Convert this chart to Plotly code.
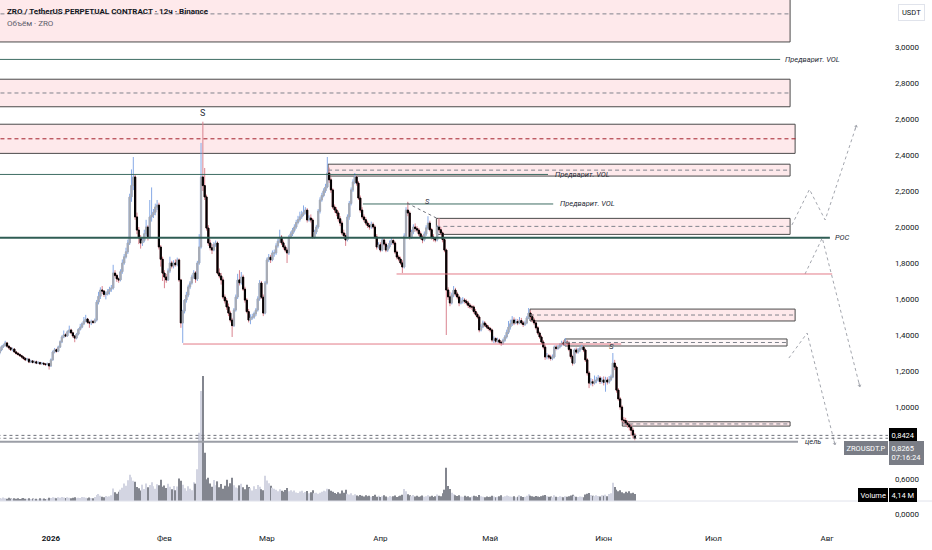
import pandas as pd
import plotly.graph_objects as go

# ZRO/USDT perpetual, 12h candles from 2025-12-18
first_open = 1.300
close = [
    1.317, 1.335, 1.342, 1.356, 1.338, 1.329, 1.318, 1.322, 1.306, 1.298,
    1.292, 1.285, 1.278, 1.270, 1.262, 1.266, 1.250, 1.256, 1.248, 1.251,
    1.244, 1.247, 1.240, 1.243, 1.239, 1.236, 1.241, 1.228, 1.262, 1.306,
    1.318, 1.310, 1.333, 1.362, 1.389, 1.401, 1.395, 1.418, 1.428, 1.412,
    1.395, 1.383, 1.405, 1.431, 1.444, 1.462, 1.478, 1.489, 1.471, 1.467,
    1.476, 1.470, 1.483, 1.583, 1.615, 1.650, 1.644, 1.625, 1.628, 1.642,
    1.655, 1.661, 1.744, 1.731, 1.712, 1.706, 1.752, 1.800, 1.834, 1.862,
    1.911, 2.167, 2.231, 2.278, 2.056, 1.983, 1.941, 1.911, 1.925, 1.962,
    2.000, 1.944, 2.056, 2.067, 2.082, 2.111, 2.122, 1.889, 1.821, 1.744,
    1.722, 1.706, 1.756, 1.800, 1.783, 1.800, 1.791, 1.817, 1.706, 1.467,
    1.533, 1.594, 1.622, 1.667, 1.689, 1.722, 1.745, 1.711, 1.800, 1.889,
    2.278, 2.230, 2.167, 1.994, 1.911, 1.885, 1.872, 1.902, 1.911, 1.744,
    1.728, 1.706, 1.611, 1.590, 1.556, 1.522, 1.483, 1.452, 1.539, 1.611,
    1.706, 1.690, 1.722, 1.655, 1.594, 1.530, 1.483, 1.495, 1.500, 1.518,
    1.539, 1.601, 1.689, 1.610, 1.522, 1.689, 1.817, 1.832, 1.818, 1.856,
    1.856, 1.895, 1.921, 1.944, 1.912, 1.889, 1.872, 1.856, 1.944, 1.962,
    1.981, 2.000, 2.025, 2.041, 2.056, 2.070, 2.081, 2.094, 2.039, 2.050,
    2.039, 1.944, 1.972, 2.000, 2.088, 2.150, 2.175, 2.201, 2.222, 2.300,
    2.262, 2.206, 2.111, 2.095, 2.078, 2.046, 2.022, 1.967, 1.952, 1.928,
    2.056, 2.131, 2.206, 2.250, 2.278, 2.244, 2.161, 2.094, 2.056, 2.041,
    2.022, 2.008, 2.000, 2.015, 2.000, 1.945, 1.889, 1.901, 1.872, 1.928,
    1.905, 1.872, 1.890, 1.911, 1.925, 1.911, 1.861, 1.833, 1.822, 1.800,
    1.778, 1.950, 2.094, 2.078, 1.944, 1.972, 2.000, 1.991, 1.983, 1.962,
    1.944, 1.928, 1.961, 1.995, 2.022, 1.985, 1.944, 1.935, 1.928, 2.000,
    1.985, 1.967, 1.930, 1.872, 1.650, 1.612, 1.578, 1.622, 1.650, 1.628,
    1.611, 1.578, 1.585, 1.594, 1.588, 1.578, 1.565, 1.556, 1.556, 1.531,
    1.515, 1.500, 1.428, 1.445, 1.467, 1.455, 1.444, 1.436, 1.428, 1.372,
    1.380, 1.366, 1.372, 1.360, 1.356, 1.371, 1.389, 1.415, 1.444, 1.462,
    1.483, 1.467, 1.475, 1.467, 1.480, 1.467, 1.459, 1.467, 1.495, 1.522,
    1.502, 1.483, 1.467, 1.440, 1.411, 1.389, 1.361, 1.333, 1.278, 1.285,
    1.278, 1.270, 1.278, 1.333, 1.325, 1.333, 1.344, 1.356, 1.350, 1.361,
    1.356, 1.320, 1.280, 1.244, 1.317, 1.305, 1.317, 1.325, 1.333, 1.317,
    1.262, 1.189, 1.133, 1.140, 1.133, 1.145, 1.150, 1.161, 1.142, 1.150,
    1.138, 1.150, 1.139, 1.152, 1.167, 1.244, 1.222, 1.094, 1.045, 1.000,
    0.928, 0.925, 0.911, 0.902, 0.889, 0.871, 0.844, 0.8265,
]
high = [
    1.325, 1.342, 1.352, 1.368, 1.362, 1.344, 1.335, 1.330, 1.326, 1.312,
    1.305, 1.298, 1.290, 1.284, 1.276, 1.273, 1.270, 1.262, 1.261, 1.258,
    1.258, 1.255, 1.252, 1.250, 1.248, 1.244, 1.247, 1.245, 1.270, 1.314,
    1.328, 1.325, 1.341, 1.370, 1.398, 1.425, 1.410, 1.426, 1.452, 1.435,
    1.418, 1.400, 1.412, 1.438, 1.462, 1.470, 1.500, 1.512, 1.495, 1.480,
    1.485, 1.482, 1.492, 1.595, 1.640, 1.665, 1.672, 1.650, 1.640, 1.655,
    1.668, 1.678, 1.790, 1.760, 1.740, 1.720, 1.765, 1.820, 1.850, 1.885,
    1.930, 2.185, 2.320, 2.389, 2.290, 2.080, 2.000, 1.955, 1.940, 1.985,
    2.040, 2.010, 2.150, 2.220, 2.100, 2.130, 2.150, 2.135, 1.900, 1.835,
    1.760, 1.740, 1.770, 1.835, 1.812, 1.815, 1.820, 1.830, 1.825, 1.712,
    1.540, 1.600, 1.640, 1.680, 1.700, 1.735, 1.760, 1.755, 1.812, 1.960,
    2.467, 2.585, 2.328, 2.180, 2.010, 1.930, 1.905, 1.915, 1.925, 1.920,
    1.770, 1.745, 1.720, 1.625, 1.605, 1.575, 1.535, 1.495, 1.550, 1.625,
    1.740, 1.760, 1.750, 1.735, 1.668, 1.605, 1.545, 1.515, 1.518, 1.530,
    1.550, 1.615, 1.705, 1.700, 1.625, 1.700, 1.830, 1.850, 1.845, 1.870,
    1.875, 1.910, 1.935, 1.985, 1.955, 1.925, 1.900, 1.885, 1.955, 1.975,
    1.995, 2.015, 2.040, 2.062, 2.085, 2.090, 2.120, 2.110, 2.105, 2.065,
    2.070, 2.050, 1.985, 2.012, 2.100, 2.165, 2.190, 2.215, 2.240, 2.389,
    2.330, 2.275, 2.215, 2.125, 2.110, 2.090, 2.060, 2.035, 1.985, 1.965,
    2.070, 2.145, 2.220, 2.265, 2.300, 2.285, 2.255, 2.175, 2.110, 2.070,
    2.055, 2.035, 2.020, 2.030, 2.025, 2.010, 1.960, 1.915, 1.915, 1.940,
    1.940, 1.915, 1.900, 1.925, 1.940, 1.935, 1.920, 1.870, 1.845, 1.835,
    1.815, 1.965, 2.110, 2.140, 2.090, 1.985, 2.015, 2.020, 2.005, 1.995,
    1.975, 1.955, 1.975, 2.010, 2.060, 2.035, 1.995, 1.960, 1.945, 2.010,
    2.050, 2.000, 1.975, 1.940, 1.880, 1.665, 1.640, 1.635, 1.672, 1.662,
    1.640, 1.620, 1.605, 1.610, 1.605, 1.598, 1.590, 1.575, 1.568, 1.565,
    1.545, 1.525, 1.510, 1.460, 1.480, 1.478, 1.465, 1.455, 1.445, 1.435,
    1.392, 1.388, 1.385, 1.380, 1.368, 1.380, 1.400, 1.430, 1.478, 1.485,
    1.505, 1.498, 1.490, 1.488, 1.500, 1.495, 1.478, 1.480, 1.505, 1.550,
    1.535, 1.515, 1.495, 1.475, 1.450, 1.420, 1.398, 1.372, 1.345, 1.300,
    1.295, 1.290, 1.292, 1.342, 1.345, 1.345, 1.355, 1.368, 1.370, 1.383,
    1.372, 1.365, 1.330, 1.290, 1.325, 1.330, 1.328, 1.335, 1.345, 1.342,
    1.325, 1.272, 1.200, 1.160, 1.155, 1.175, 1.168, 1.178, 1.172, 1.165,
    1.170, 1.168, 1.165, 1.172, 1.180, 1.300, 1.262, 1.230, 1.105, 1.055,
    1.010, 0.945, 0.940, 0.925, 0.915, 0.905, 0.885, 0.856,
]
low = [
    1.292, 1.310, 1.328, 1.336, 1.330, 1.320, 1.312, 1.310, 1.300, 1.290,
    1.285, 1.279, 1.270, 1.262, 1.255, 1.258, 1.244, 1.246, 1.242, 1.243,
    1.238, 1.239, 1.234, 1.236, 1.232, 1.228, 1.231, 1.208, 1.224, 1.258,
    1.298, 1.302, 1.305, 1.328, 1.355, 1.382, 1.388, 1.390, 1.410, 1.405,
    1.385, 1.360, 1.376, 1.398, 1.425, 1.438, 1.455, 1.470, 1.462, 1.440,
    1.455, 1.462, 1.465, 1.475, 1.570, 1.600, 1.628, 1.612, 1.598, 1.620,
    1.625, 1.640, 1.652, 1.720, 1.695, 1.690, 1.698, 1.740, 1.790, 1.825,
    1.850, 1.900, 2.140, 2.205, 2.040, 1.960, 1.905, 1.880, 1.895, 1.915,
    1.950, 1.925, 1.935, 2.030, 2.050, 2.065, 2.095, 1.875, 1.780, 1.700,
    1.660, 1.690, 1.700, 1.745, 1.770, 1.770, 1.780, 1.782, 1.695, 1.440,
    1.356, 1.520, 1.580, 1.610, 1.655, 1.680, 1.712, 1.690, 1.700, 1.790,
    1.880, 2.200, 2.150, 1.980, 1.895, 1.870, 1.850, 1.865, 1.890, 1.735,
    1.715, 1.680, 1.600, 1.575, 1.540, 1.505, 1.470, 1.389, 1.445, 1.530,
    1.600, 1.675, 1.680, 1.645, 1.580, 1.520, 1.470, 1.460, 1.485, 1.490,
    1.505, 1.530, 1.590, 1.600, 1.505, 1.515, 1.680, 1.805, 1.800, 1.810,
    1.835, 1.845, 1.885, 1.910, 1.900, 1.875, 1.860, 1.800, 1.845, 1.935,
    1.950, 1.970, 1.990, 2.015, 2.030, 2.045, 2.060, 2.070, 2.025, 2.030,
    2.025, 1.935, 1.935, 1.960, 1.990, 2.075, 2.140, 2.165, 2.190, 2.215,
    2.245, 2.190, 2.100, 2.080, 2.060, 2.030, 2.005, 1.955, 1.935, 1.895,
    1.920, 2.040, 2.120, 2.195, 2.238, 2.230, 2.150, 2.080, 2.045, 2.030,
    2.010, 1.995, 1.985, 1.990, 1.990, 1.935, 1.875, 1.880, 1.860, 1.865,
    1.895, 1.860, 1.862, 1.880, 1.900, 1.900, 1.850, 1.820, 1.810, 1.790,
    1.744, 1.770, 1.940, 2.060, 1.930, 1.935, 1.960, 1.975, 1.970, 1.950,
    1.930, 1.910, 1.920, 1.950, 1.985, 1.975, 1.930, 1.920, 1.915, 1.920,
    1.975, 1.955, 1.915, 1.860, 1.400, 1.595, 1.560, 1.570, 1.610, 1.615,
    1.598, 1.560, 1.570, 1.575, 1.575, 1.565, 1.550, 1.545, 1.540, 1.520,
    1.505, 1.490, 1.415, 1.420, 1.438, 1.445, 1.435, 1.425, 1.415, 1.360,
    1.355, 1.355, 1.358, 1.350, 1.340, 1.345, 1.362, 1.380, 1.405, 1.430,
    1.450, 1.455, 1.460, 1.455, 1.460, 1.458, 1.445, 1.450, 1.460, 1.488,
    1.490, 1.470, 1.455, 1.430, 1.400, 1.378, 1.350, 1.320, 1.262, 1.265,
    1.265, 1.258, 1.260, 1.270, 1.315, 1.318, 1.325, 1.335, 1.340, 1.340,
    1.340, 1.310, 1.268, 1.230, 1.238, 1.295, 1.296, 1.305, 1.318, 1.305,
    1.250, 1.175, 1.105, 1.120, 1.115, 1.125, 1.132, 1.140, 1.128, 1.130,
    1.120, 1.085, 1.125, 1.130, 1.145, 1.160, 1.205, 1.080, 1.035, 0.985,
    0.915, 0.905, 0.895, 0.885, 0.870, 0.840, 0.825, 0.815,
]
# volume, millions of ZRO
volume = [
    1.8, 1.5, 2.1, 1.6, 1.4, 1.9, 1.5, 1.3, 1.7, 1.4,
    1.6, 1.2, 1.5, 1.8, 1.3, 1.4, 1.6, 1.2, 1.5, 1.3,
    1.4, 1.1, 1.6, 1.3, 1.5, 1.2, 1.4, 2.0, 1.8, 2.2,
    1.9, 1.6, 2.3, 2.0, 2.4, 2.1, 1.8, 2.2, 2.0, 1.7,
    1.9, 2.3, 1.6, 2.0, 1.8, 2.4, 2.2, 1.9, 1.7, 2.1,
    1.8, 1.6, 2.4, 3.6, 4.2, 3.1, 2.6, 2.2, 3.0, 2.5,
    2.8, 3.4, 7.5, 5.2, 4.4, 5.6, 6.8, 7.9, 10.5, 9.2,
    12.4, 15.8, 14.2, 12.1, 11.5, 8.4, 7.6, 6.3, 9.8, 7.2,
    10.5, 8.2, 9.6, 11.3, 8.8, 7.4, 10.1, 9.5, 12.7, 8.6,
    9.3, 7.8, 10.4, 8.5, 7.1, 9.0, 6.4, 8.7, 13.5, 12.2,
    9.8, 7.6, 6.2, 8.9, 7.3, 6.5, 11.2, 10.4, 19.0, 41.0,
    66.0, 75.0, 29.0, 13.0, 14.0, 10.5, 8.6, 12.6, 9.4, 11.8,
    8.3, 10.2, 7.4, 9.1, 12.8, 8.7, 10.6, 13.9, 9.5, 8.1,
    7.6, 9.4, 10.3, 8.2, 7.1, 9.8, 8.4, 7.7, 6.3, 8.9,
    7.2, 9.6, 8.5, 7.0, 6.4, 15.2, 12.3, 10.6, 9.2, 8.0,
    7.4, 6.8, 5.9, 7.1, 6.2, 5.5, 6.6, 7.8, 5.8, 6.5,
    5.6, 6.3, 5.1, 4.8, 5.7, 6.1, 4.9, 5.4, 6.0, 4.6,
    5.2, 6.4, 4.7, 5.0, 4.3, 4.9, 5.5, 6.2, 5.8, 7.4,
    7.0, 6.1, 5.6, 4.8, 4.2, 5.3, 4.5, 6.3, 5.0, 6.8,
    4.4, 3.9, 4.6, 3.5, 4.1, 3.3, 2.9, 3.6, 3.1, 2.7,
    3.4, 2.8, 3.2, 2.5, 3.0, 3.7, 2.6, 3.1, 2.4, 2.9,
    3.5, 2.7, 2.3, 3.0, 2.6, 2.8, 3.3, 2.4, 2.9, 3.2,
    3.8, 7.2, 5.9, 4.1, 3.5, 2.9, 3.6, 2.7, 3.2, 2.5,
    2.8, 3.3, 2.6, 2.9, 3.4, 2.7, 3.1, 2.4, 2.8, 3.9,
    3.2, 2.9, 4.6, 6.8, 20.0, 9.0, 7.2, 5.0, 4.1, 3.5,
    3.0, 3.4, 2.7, 2.5, 3.1, 2.6, 2.9, 2.3, 2.7, 3.2,
    2.8, 2.4, 3.6, 2.9, 2.5, 2.2, 2.7, 2.4, 2.6, 3.1,
    2.7, 2.3, 2.5, 2.9, 3.4, 2.6, 2.8, 3.3, 3.0, 2.7,
    2.5, 2.9, 2.3, 2.6, 3.5, 2.8, 2.4, 2.6, 3.1, 4.0,
    3.2, 2.8, 2.6, 3.0, 2.7, 2.4, 2.9, 3.3, 3.6, 2.8,
    2.5, 2.7, 2.3, 3.4, 2.6, 2.4, 2.8, 2.5, 2.3, 2.9,
    2.6, 2.8, 3.3, 3.7, 3.1, 2.6, 2.4, 2.7, 2.5, 2.3,
    3.9, 4.4, 4.8, 3.6, 3.2, 2.9, 3.4, 3.0, 2.7, 3.5,
    3.1, 3.8, 2.9, 4.2, 4.6, 11.0, 8.4, 6.8, 5.9, 6.4,
    5.2, 4.6, 5.5, 4.9, 5.8, 4.7, 5.0, 4.14,
]

# drawings on the chart (price zones, levels, projections)
zone_start = ["2025-12-01", "2025-12-01", "2025-12-01", "2026-03-17 17:00",
              "2026-04-16 07:00", "2026-05-11 21:00", "2026-05-21 10:00", "2026-06-06 02:00"]
zone_end = ["2026-07-21 22:00", "2026-07-21 22:00", "2026-07-23 07:00", "2026-07-21 22:00",
            "2026-07-21 22:00", "2026-07-23 07:00", "2026-07-21 02:00", "2026-07-21 22:00"]
zone_top = [3.34, 2.821, 2.571, 2.349, 2.048, 1.544, 1.378, 0.918]
zone_bottom = [3.028, 2.668, 2.409, 2.283, 1.959, 1.478, 1.339, 0.894]

level_price = [2.931, 2.292, 2.128, 1.9406, 1.739, 1.350, 0.807]
level_start = ["2025-12-01", "2025-12-01", "2026-03-27 05:00", "2025-12-01",
               "2026-04-05 10:00", "2026-02-06 02:00", "2025-12-01"]
level_end = ["2026-07-19 05:00", "2026-05-16 19:00", "2026-05-18 05:00", "2026-08-01 19:00",
             "2026-08-02 10:00", "2026-06-05 19:00", "2026-07-24 02:00"]

price_lines = [0.8424, 0.8265]

path_a_x = ["2026-07-22 10:00", "2026-07-27 05:00", "2026-07-31 12:00", "2026-08-09 02:00"]
path_a_y = [2.011, 2.209, 2.039, 2.567]
path_b_x = ["2026-07-26 00:00", "2026-07-30 17:00", "2026-08-10 00:00"]
path_b_y = [1.739, 1.939, 1.111]
path_c_x = ["2026-07-21 14:00", "2026-07-26 14:00", "2026-08-03 05:00"]
path_c_y = [1.272, 1.411, 0.789]

price_ticks = [0.6, 1.0, 1.2, 1.4, 1.6, 1.8, 2.0, 2.2, 2.4, 2.6, 2.8, 3.0]
month_ticks = ["2026-01-01", "2026-02-01", "2026-03-01", "2026-04-01",
               "2026-05-01", "2026-06-01", "2026-07-01", "2026-08-01"]
month_labels = ["<b>2026</b>", "Фев", "Мар", "Апр", "Май", "Июн", "Июл", "Авг"]

FONT = "Roboto, Liberation Sans, sans-serif"
TEXT = "#131722"
UP_WICK, DOWN_WICK = "#86a9e6", "#d9838f"
UP_BODY, DOWN_BODY = "#a9acb4", "#000000"
ZONE_FILL = "rgba(242,54,69,0.11)"
ZONE_EDGE = "#4a4a4a"

times = pd.date_range("2025-12-18 00:00", periods=len(close), freq="12h")
opens = [first_open] + close[:-1]
body_top = [max(o, c) for o, c in zip(opens, close)]
body_bot = [min(o, c) for o, c in zip(opens, close)]
vol_colors = ["#d3d5e2" if c >= o else "#83868f" for o, c in zip(opens, close)]

fig = go.Figure()

# volume overlay (own hidden axis)
fig.add_trace(go.Bar(x=times, y=volume, marker_color=vol_colors, marker_line_width=0,
                     width=12 * 3600 * 1000 * 0.6, yaxis="y3", hoverinfo="skip"))

# wicks: full-range candles in wick colours
fig.add_trace(go.Candlestick(
    x=times, open=opens, high=high, low=low, close=close, whiskerwidth=0,
    increasing=dict(line=dict(color=UP_WICK, width=1), fillcolor=UP_WICK),
    decreasing=dict(line=dict(color=DOWN_WICK, width=1), fillcolor=DOWN_WICK),
    hoverinfo="skip"))
# bodies drawn on top
fig.add_trace(go.Candlestick(
    x=times, open=opens, high=body_top, low=body_bot, close=close, whiskerwidth=0,
    increasing=dict(line=dict(color=UP_BODY, width=1), fillcolor=UP_BODY),
    decreasing=dict(line=dict(color=DOWN_BODY, width=1), fillcolor=DOWN_BODY),
    hoverinfo="skip"))

# projection zigzags
for px_, py_ in [(path_a_x, path_a_y), (path_b_x, path_b_y), (path_c_x, path_c_y)]:
    fig.add_trace(go.Scatter(x=px_, y=py_, mode="lines", hoverinfo="skip",
                             line=dict(color="#a3a6ae", width=1, dash="dot")))

# empty lower pane, so the time axis sits under it
fig.add_trace(go.Scatter(x=[times[0]], y=[0], mode="markers", yaxis="y2",
                         marker=dict(opacity=0), hoverinfo="skip"))

shapes = []
for i in range(len(zone_top)):
    shapes.append(dict(type="rect", xref="x", yref="y", x0=zone_start[i], x1=zone_end[i],
                       y0=zone_bottom[i], y1=zone_top[i],
                       fillcolor=ZONE_FILL if i != 6 else "rgba(242,54,69,0.04)",
                       line=dict(color=ZONE_EDGE, width=1), layer="below"))
    mid = (zone_top[i] + zone_bottom[i]) / 2
    red = i == 2
    shapes.append(dict(type="line", xref="x", yref="y", x0=zone_start[i],
                       x1="2026-07-24 02:00" if red else zone_end[i], y0=mid, y1=mid,
                       line=dict(color="#a3202c" if red else "#80838c", width=1, dash="4px,3px")))

level_style = [("#3e6d63", 1), ("#3e6d63", 1), ("#3e6d63", 1), ("#2f5d54", 2),
               ("#e37b88", 1), ("#e37b88", 1), ("#9b9ea6", 2)]
for i, p in enumerate(level_price):
    col, w = level_style[i]
    shapes.append(dict(type="line", xref="x", yref="y", x0=level_start[i], x1=level_end[i],
                       y0=p, y1=p, line=dict(color=col, width=w)))

for p in price_lines:
    shapes.append(dict(type="line", xref="x", yref="y", x0="2025-12-01", x1="2026-09-01",
                       y0=p, y1=p, line=dict(color="#6f727b", width=1, dash="dot")))

# small dotted trend under the April "S"
shapes.append(dict(type="line", xref="x", yref="y", x0="2026-04-08 07:00", x1="2026-04-16 07:00",
                   y0=2.133, y1=2.05, line=dict(color="#6f727b", width=1, dash="dot")))

# pane separator above the lower pane
shapes.append(dict(type="line", xref="paper", yref="paper", x0=0, x1=1.06, y0=0.0511, y1=0.0511,
                   line=dict(color="#e0e3eb", width=1)))

annotations = []


def note(x, y, text, size=7.5, italic=True, xanchor="left", color="#2a2e39"):
    t = "<i>%s</i>" % text if italic else text
    annotations.append(dict(x=x, y=y, xref="x", yref="y", text=t, showarrow=False,
                            xanchor=xanchor, font=dict(size=size, color=color, family=FONT)))


note("2026-07-20 00:00", 2.931, "Предварит. VOL")
note("2026-05-18 05:00", 2.292, "Предварит. VOL")
note("2026-05-19 12:00", 2.128, "Предварит. VOL")
note("2026-08-02 16:00", 1.9406, "POC")
note("2026-07-25 12:00", 0.807, "цель")
note("2026-02-11 12:00", 2.633, "S", size=9, italic=False, xanchor="center")
note("2026-04-14 00:00", 2.14, "S", size=7.5, xanchor="center")
note("2026-06-03 02:00", 1.335, "S", size=8, xanchor="center")

# arrow tips at the end of the projections
for ex, ey, ax, ay in [(path_a_x[-1], path_a_y[-1], -2, 6), (path_b_x[-1], path_b_y[-1], -1.5, -6),
                       (path_c_x[-1], path_c_y[-1], -1.5, -6)]:
    annotations.append(dict(x=ex, y=ey, xref="x", yref="y", ax=ax, ay=ay, showarrow=True,
                            arrowhead=1, arrowsize=0.7, arrowwidth=1, arrowcolor="#a3a6ae", text=""))

# legend text, top left
annotations.append(dict(x=0.006, y=0.978, xref="paper", yref="paper", xanchor="left", yanchor="middle",
                        showarrow=False, text="<b>ZRO / TetherUS PERPETUAL CONTRACT · 12ч · Binance</b>",
                        font=dict(size=8, color=TEXT, family=FONT)))
annotations.append(dict(x=0.006, y=0.956, xref="paper", yref="paper", xanchor="left", yanchor="middle",
                        showarrow=False, text="Объём · ZRO", font=dict(size=8, color="#5d606b", family=FONT)))


# price scale labels
def tag(x, y, text, bg, xanchor="left", yref="y", fc="white", border=None, pad=1.5):
    annotations.append(dict(x=x, y=y, xref="paper", yref=yref, xanchor=xanchor, yanchor="middle",
                            showarrow=False, text=text, bgcolor=bg, borderpad=pad,
                            bordercolor=border or bg, borderwidth=1, align="left",
                            font=dict(size=7.5, color=fc, family=FONT)))


tag(1.0012, 0.8424, "0,8424", "#000000")
tag(0.9995, 0.772, "ZROUSDT.P", "#7a7d86", xanchor="right")
tag(1.0012, 0.744, "0,8265<br>07:16:24", "#7a7d86")
tag(0.9995, 0.514, "Volume", "#000000", xanchor="right")
tag(1.0012, 0.514, "4,14 M", "#000000")
tag(1.027, 0.977, "USDT", "#ffffff", xanchor="center", yref="paper", fc=TEXT,
    border="#e0e3eb", pad=3)

fig.update_layout(
    width=932, height=550,
    margin=dict(l=0, r=44, t=0, b=22),
    paper_bgcolor="white", plot_bgcolor="white",
    showlegend=False, separators=",.", boxgap=0.1,
    font=dict(family=FONT, size=7.5, color=TEXT),
    shapes=shapes, annotations=annotations,
    xaxis=dict(type="date", range=["2025-12-18 02:00", "2026-08-17 16:00"], anchor="y2",
               rangeslider=dict(visible=False), showgrid=False, zeroline=False, showline=False,
               tickvals=month_ticks, ticktext=month_labels, ticks="", ticklabelstandoff=4,
               tickfont=dict(size=8, color=TEXT)),
    yaxis=dict(domain=[0.0511, 1], range=[0.4778, 3.2611], side="right", anchor="x", showgrid=False,
               zeroline=False, tickvals=price_ticks, tickformat=".4f", ticks="",
               ticklabelstandoff=6, tickfont=dict(size=8, color=TEXT)),
    yaxis2=dict(domain=[0, 0.0511], range=[-1, 1], side="right", anchor="x", showgrid=False,
                zeroline=False, tickvals=[0], tickformat=".4f", ticks="", ticklabelstandoff=6,
                tickfont=dict(size=8, color=TEXT)),
    yaxis3=dict(overlaying="y", range=[0, 300.6], visible=False),
)

fig.write_html("out.html", config={"displayModeBar": False},
               post_script="document.body.style.margin='0';")
